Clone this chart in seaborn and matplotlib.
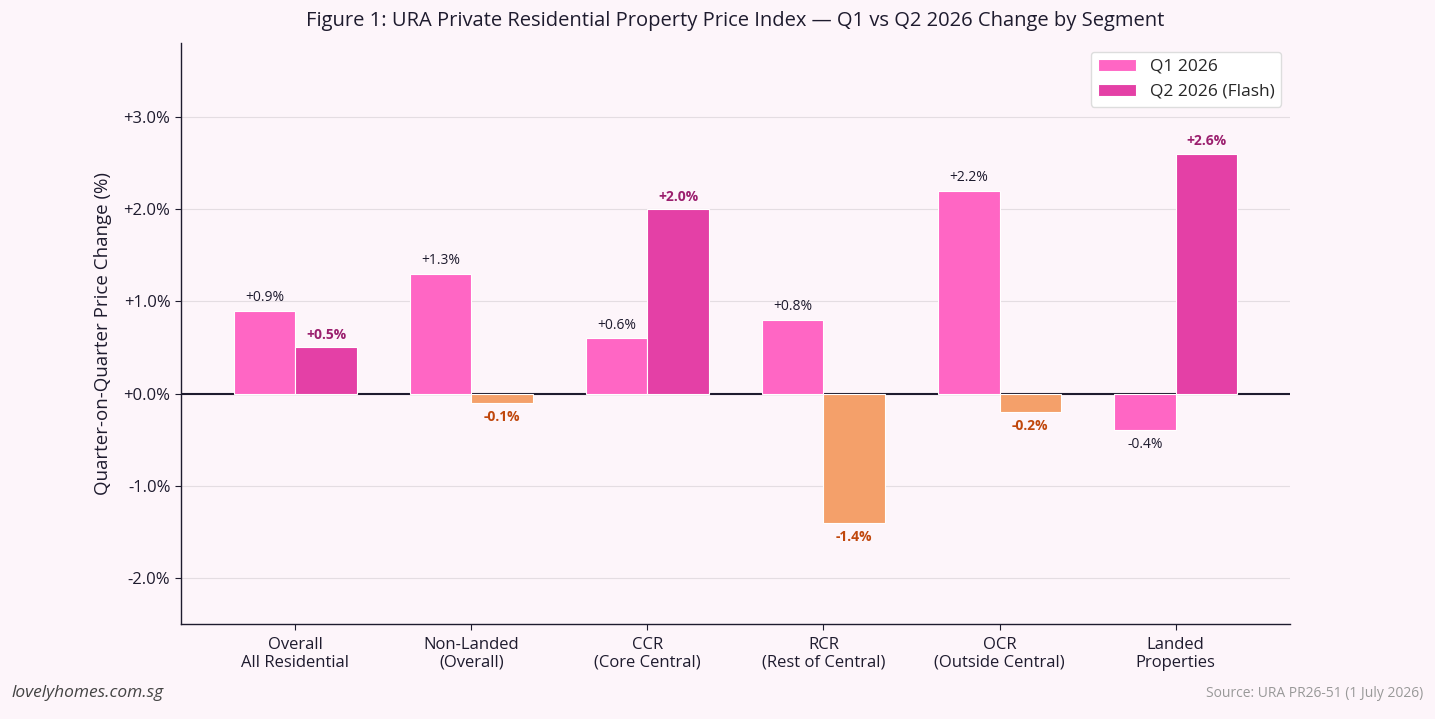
import pandas as pd
import matplotlib.pyplot as plt
import seaborn as sns

# data
segments = ["Overall\nAll Residential", "Non-Landed\n(Overall)", "CCR\n(Core Central)",
            "RCR\n(Rest of Central)", "OCR\n(Outside Central)", "Landed\nProperties"]
q1_values = [0.9, 1.3, 0.6, 0.8, 2.2, -0.4]
q2_values = [0.5, -0.1, 2.0, -1.4, -0.2, 2.6]
series_names = ["Q1 2026", "Q2 2026 (Flash)"]

bg = "#FDF5FA"
q1_color = "#FF66C4"
q2_color = "#E440A6"
neg_color = "#F4A06A"
q2_label_color = "#9B1F6E"
neg_label_color = "#C0470C"
text_dark = "#1E1B2E"

df = pd.DataFrame({
    "segment": segments * 2,
    "change": q1_values + q2_values,
    "series": [series_names[0]] * len(segments) + [series_names[1]] * len(segments),
})

sns.set_style("white")
plt.rcParams["font.family"] = ["Open Sans", "DejaVu Sans"]

fig, ax = plt.subplots(figsize=(14.35, 7.19), dpi=100)
fig.patch.set_facecolor(bg)
ax.set_facecolor(bg)

sns.barplot(data=df, x="segment", y="change", hue="series", order=segments,
            hue_order=series_names, palette=[q1_color, q2_color], width=0.7,
            saturation=1, edgecolor="white", linewidth=0.8, ax=ax, zorder=3)

# negative Q2 bars in orange
for bar, v in zip(ax.containers[1], q2_values):
    if v < 0:
        bar.set_facecolor(neg_color)

ax.axhline(0, color=text_dark, linewidth=1.5, zorder=2)
ax.yaxis.grid(True, color="#E4DDE2", linewidth=0.8, zorder=0)
ax.set_axisbelow(True)

# value labels
for bar, v in zip(ax.containers[0], q1_values):
    x = bar.get_x() + bar.get_width() / 2
    ax.annotate(f"{v:+.1f}%", (x, v), xytext=(0, 4 if v >= 0 else -5), textcoords="offset points",
                ha="center", va="bottom" if v >= 0 else "top", fontsize=10, color=text_dark)
for bar, v in zip(ax.containers[1], q2_values):
    x = bar.get_x() + bar.get_width() / 2
    ax.annotate(f"{v:+.1f}%", (x, v), xytext=(0, 4 if v >= 0 else -5), textcoords="offset points",
                ha="center", va="bottom" if v >= 0 else "top", fontsize=10, fontweight="bold",
                color=q2_label_color if v >= 0 else neg_label_color)

ax.set_xlim(-0.65, 5.65)
ax.set_ylim(-2.5, 3.8)
ax.set_yticks([-2, -1, 0, 1, 2, 3])
ax.set_yticklabels([f"{t:+.1f}%" for t in [-2, -1, 0, 1, 2, 3]])
ax.tick_params(axis="both", labelsize=12, colors=text_dark, length=4, left=True, bottom=True)
ax.tick_params(axis="x", pad=5)
ax.set_xlabel("")
ax.set_ylabel("Quarter-on-Quarter Price Change (%)", fontsize=13.5, color=text_dark, labelpad=8)
ax.set_title("Figure 1: URA Private Residential Property Price Index \u2014 Q1 vs Q2 2026 Change by Segment",
             fontsize=14.5, color=text_dark, pad=12)

sns.despine(ax=ax)
for s in ["left", "bottom"]:
    ax.spines[s].set_color(text_dark)
    ax.spines[s].set_linewidth(1.0)

leg = ax.legend(loc="upper right", fontsize=12.5, frameon=True, facecolor="white",
                edgecolor="#DDDDDD", handlelength=2.2)
leg.get_frame().set_alpha(1)

fig.text(0.008, 0.03, "lovelyhomes.com.sg", fontsize=12.5, style="italic", color="#444444")
fig.text(0.992, 0.03, "Source: URA PR26-51 (1 July 2026)", fontsize=10, color="#999999", ha="right")

fig.subplots_adjust(left=0.126, right=0.899, top=0.94, bottom=0.132)
fig.savefig("out.png", dpi=100, facecolor=bg)
